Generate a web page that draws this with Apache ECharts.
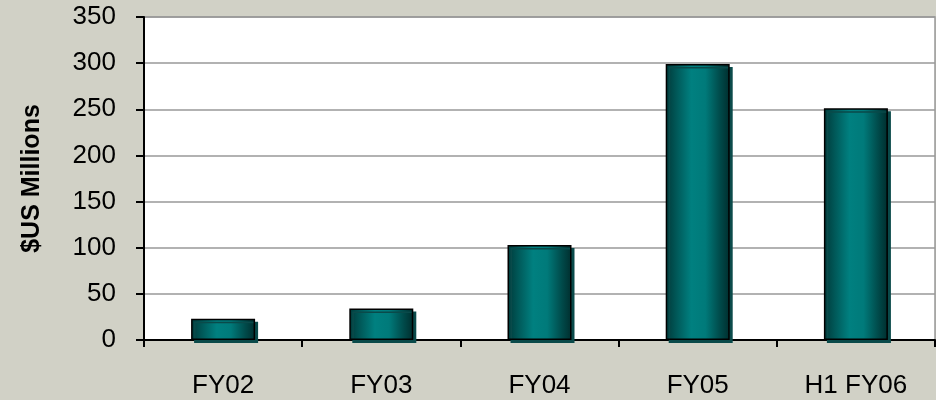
<!DOCTYPE html>
<html><head><meta charset="utf-8">
<script src="https://cdn.jsdelivr.net/npm/echarts@6/dist/echarts.min.js"></script>
<style>html,body{margin:0;padding:0;background:#d1d1c6;}#c{width:936px;height:400px;}</style>
</head><body><div id="c"></div>
<script>
const categories = ['FY02', 'FY03', 'FY04', 'FY05', 'H1 FY06'];
const revenue = [23, 34, 103, 299, 251];
const yTicks = [0, 50, 100, 150, 200, 250, 300, 350];

const chart = echarts.init(document.getElementById('c'));
const font = '"Liberation Sans", Arial, sans-serif';
chart.setOption({
  backgroundColor: '#d1d1c6',
  animation: false,
  grid: { left: 144, right: 1, top: 17, bottom: 60, show: true, backgroundColor: '#ffffff', borderColor: '#999', borderWidth: 1.5 },
  xAxis: {
    type: 'category', data: categories,
    axisLine: { lineStyle: { color: '#000', width: 2 } },
    axisTick: { show: true, length: 7, lineStyle: { color: '#000', width: 2 } },
    axisLabel: { color: '#000', fontSize: 26, fontFamily: font, margin: 33 }
  },
  yAxis: {
    type: 'value', min: yTicks[0], max: yTicks[yTicks.length - 1], interval: 50,
    name: '$US Millions', nameLocation: 'middle', nameGap: 99, nameRotate: 90,
    nameTextStyle: { color: '#000', fontSize: 25, fontWeight: 'bold', fontFamily: font },
    axisLine: { show: true, lineStyle: { color: '#000', width: 2 } },
    axisTick: { show: true, length: 8, lineStyle: { color: '#000', width: 2 } },
    axisLabel: { color: '#000', fontSize: 26, fontFamily: font, margin: 28 },
    splitLine: { lineStyle: { color: '#999', width: 1.5 } }
  },
  series: [{
    type: 'bar', data: revenue, barWidth: 64,
    itemStyle: {
      color: new echarts.graphic.LinearGradient(0, 0, 1, 0, [
        { offset: 0, color: '#003a3a' },
        { offset: 0.18, color: '#005a5a' },
        { offset: 0.4, color: '#008080' },
        { offset: 0.62, color: '#007a7a' },
        { offset: 0.85, color: '#004a4a' },
        { offset: 1, color: '#002e2e' }
      ]),
      borderColor: '#000', borderWidth: 1.5,
      shadowColor: '#0a4a4a', shadowOffsetX: 3, shadowOffsetY: 3, shadowBlur: 0
    }
  }]
});
</script></body></html>
